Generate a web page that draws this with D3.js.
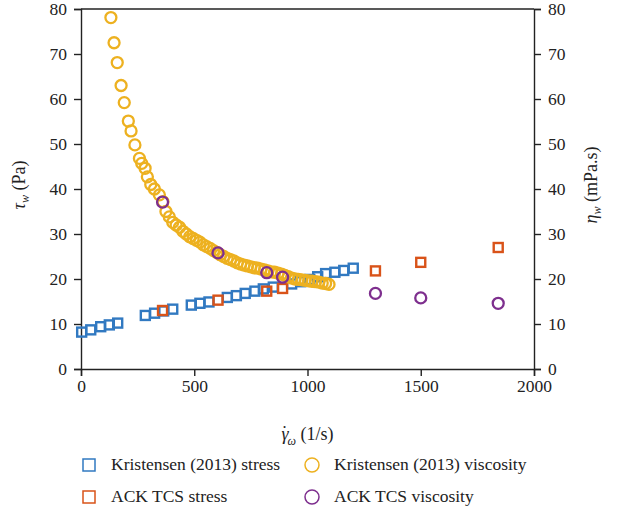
<!DOCTYPE html>
<html>
<head>
<meta charset="utf-8">
<script src="https://cdn.jsdelivr.net/npm/d3@7"></script>
<style>
body { margin: 0; background: #fff; }
svg text { font-family: "Liberation Serif", "DejaVu Serif", serif !important; fill: #222; }
</style>
</head>
<body>
<svg></svg>
<script>
var screen = {width: 624, height: 516};
var margins = {top: 9, right: 90, bottom: 147, left: 81};

// Kristensen (2013) stress
var kStressX = [3, 43, 87, 125, 162, 284, 325, 365, 405, 487, 525, 565, 646, 686, 725, 768, 805, 849, 930, 970, 1010, 1045, 1080, 1121, 1160, 1202];
var kStressY = [8.2, 8.7, 9.4, 9.8, 10.2, 11.9, 12.4, 12.9, 13.3, 14.2, 14.6, 14.9, 15.9, 16.3, 16.8, 17.3, 17.8, 18.2, 18.9, 19.4, 19.9, 20.5, 21.2, 21.5, 21.9, 22.4];

// Kristensen (2013) viscosity
var kViscX = [132, 146, 160, 177, 191, 209, 221, 238, 258, 268, 283, 293, 308, 324, 346, 362, 375, 390, 405, 420, 435, 450, 465, 480, 495, 510, 525, 540, 555, 570, 585, 600, 615, 630, 645, 660, 675, 690, 705, 720, 735, 750, 765, 780, 795, 810, 825, 840, 855, 870, 885, 900, 915, 930, 945, 960, 975, 990, 1005, 1020, 1035, 1050, 1065, 1080, 1095];
var kViscY = [78.1, 72.5, 68.1, 63.0, 59.2, 55.1, 52.9, 49.8, 46.8, 45.7, 44.6, 42.7, 41.0, 40.0, 38.7, 37.2, 35.0, 33.8, 32.6, 32.0, 31.5, 30.6, 30.0, 29.4, 29.0, 28.6, 28.2, 27.6, 27.2, 26.8, 26.3, 25.9, 25.4, 25.0, 24.6, 24.3, 24.0, 23.6, 23.3, 23.1, 22.9, 22.7, 22.5, 22.4, 22.2, 22.0, 21.8, 21.6, 21.5, 21.3, 21.1, 20.8, 20.5, 20.2, 20.0, 19.9, 19.8, 19.7, 19.6, 19.5, 19.4, 19.3, 19.1, 19.0, 18.8];

// ACK TCS
var ackX = [360, 605, 820, 890, 1300, 1500, 1842];
var ackStress = [13.0, 15.3, 17.3, 17.9, 21.8, 23.7, 27.0];
var ackVisc = [37.1, 25.8, 21.4, 20.4, 16.8, 15.8, 14.6];

var xTicks = [0, 500, 1000, 1500, 2000];
var yTicks = [0, 10, 20, 30, 40, 50, 60, 70, 80];

var legendNames = ["Kristensen (2013) stress", "Kristensen (2013) viscosity", "ACK TCS stress", "ACK TCS viscosity"];
var colors = ["#3179c1", "#edb120", "#d95319", "#7e2f8e"];

var width = screen.width - margins.left - margins.right;
var height = screen.height - margins.top - margins.bottom;

var svg = d3.select("svg")
    .attr("width", screen.width)
    .attr("height", screen.height);

var g = svg.append("g")
    .attr("transform", "translate(" + margins.left + "," + margins.top + ")");

var xScale = d3.scaleLinear().domain([0, 2000]).range([0, width]);
var yScale = d3.scaleLinear().domain([0, 80]).range([height, 0]);
var y2Scale = d3.scaleLinear().domain([0, 80]).range([height, 0]);

var styleAxis = function(sel)
{
    sel.selectAll("path, line").attr("stroke", "#222").attr("stroke-width", 1.4);
    sel.selectAll("text").style("font-size", "17.5px").attr("fill", "#222");
}

// top frame line
g.append("line")
    .attr("x1", 0).attr("x2", width)
    .attr("y1", 0).attr("y2", 0)
    .attr("stroke", "#222").attr("stroke-width", 1.4);

g.append("g")
    .attr("transform", "translate(0," + height + ")")
    .call(d3.axisBottom(xScale).tickValues(xTicks).tickFormat(d3.format("d")).tickSizeOuter(0).tickSize(7).tickPadding(4))
    .call(styleAxis);

g.append("g")
    .call(d3.axisLeft(yScale).tickValues(yTicks).tickSizeOuter(0).tickSize(7).tickPadding(7))
    .call(styleAxis);

g.append("g")
    .attr("transform", "translate(" + width + ",0)")
    .call(d3.axisRight(y2Scale).tickValues(yTicks).tickSizeOuter(0).tickSize(7).tickPadding(7))
    .call(styleAxis);

// axis titles
var yt = g.append("text")
    .attr("transform", "translate(-56," + (height / 2 - 4) + ") rotate(-90)")
    .attr("text-anchor", "middle")
    .style("font-size", "18px");
yt.append("tspan").style("font-style", "italic").text("τ");
yt.append("tspan").attr("dy", 4).style("font-size", "12px").style("font-style", "italic").text("w");
yt.append("tspan").attr("dy", -4).text(" (Pa)");

var y2t = g.append("text")
    .attr("transform", "translate(" + (width + 63) + "," + (height / 2 - 4) + ") rotate(-90)")
    .attr("text-anchor", "middle")
    .style("font-size", "18px");
y2t.append("tspan").style("font-style", "italic").text("η");
y2t.append("tspan").attr("dy", 4).style("font-size", "12px").style("font-style", "italic").text("w");
y2t.append("tspan").attr("dy", -4).text(" (mPa.s)");

var xt = g.append("text")
    .attr("x", width / 2)
    .attr("y", height + 71)
    .attr("text-anchor", "middle")
    .style("font-size", "18px");
xt.append("tspan").style("font-style", "italic").text("γ");
xt.append("tspan").attr("dx", -7).attr("dy", -1).text("\u02D9");
xt.append("tspan").attr("dx", 0).attr("dy", 6).style("font-size", "12px").style("font-style", "italic").text("ω");
xt.append("tspan").attr("dy", -5).text(" (1/s)");

// marks
var sq = 9;
var drawSquares = function(xs, ys, color)
{
    g.append("g").selectAll("rect")
        .data(xs.map(function(d, i) { return [d, ys[i]]; }))
        .enter().append("rect")
        .attr("x", function(d) { return xScale(d[0]) - sq / 2; })
        .attr("y", function(d) { return yScale(d[1]) - sq / 2; })
        .attr("width", sq).attr("height", sq)
        .attr("fill", "none")
        .attr("stroke", color)
        .attr("stroke-width", 2.4);
}
var drawCircles = function(xs, ys, color)
{
    g.append("g").selectAll("circle")
        .data(xs.map(function(d, i) { return [d, ys[i]]; }))
        .enter().append("circle")
        .attr("cx", function(d) { return xScale(d[0]); })
        .attr("cy", function(d) { return y2Scale(d[1]); })
        .attr("r", 5.5)
        .attr("fill", "none")
        .attr("stroke", color)
        .attr("stroke-width", 2.3);
}

drawSquares(kStressX, kStressY, colors[0]);
drawSquares(ackX, ackStress, colors[2]);
drawCircles(kViscX, kViscY, colors[1]);
drawCircles(ackX, ackVisc, colors[3]);

// legend
var legend = svg.append("g");
var legendPos = [[89, 465], [312, 465], [89, 497], [312, 497]];
legendNames.forEach(function(name, i)
{
    var p = legendPos[i];
    if (i % 2 == 0) {
        legend.append("rect")
            .attr("x", p[0] - 6).attr("y", p[1] - 6)
            .attr("width", 12).attr("height", 12)
            .attr("fill", "none").attr("stroke", colors[i == 0 ? 0 : 2]).attr("stroke-width", 1.5);
    } else {
        legend.append("circle")
            .attr("cx", p[0]).attr("cy", p[1]).attr("r", 7)
            .attr("fill", "none").attr("stroke", colors[i == 1 ? 1 : 3]).attr("stroke-width", 1.5);
    }
    legend.append("text")
        .attr("x", p[0] + 22).attr("y", p[1] + 5)
        .style("font-size", "17.5px")
        .text(name);
});
</script>
</body>
</html>
